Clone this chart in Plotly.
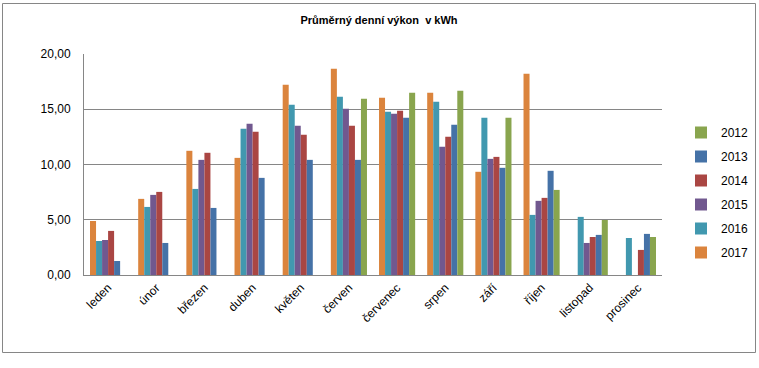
import plotly.graph_objects as go

months = ["leden", "únor", "březen", "duben", "květen", "červen",
          "červenec", "srpen", "září", "říjen", "listopad", "prosinec"]

v2017 = [4.89, 6.89, 11.24, 10.60, 17.22, 18.67, 16.04, 16.50, 9.34, 18.22, None, None]
v2016 = [3.08, 6.16, 7.79, 13.23, 15.41, 16.13, 14.77, 15.68, 14.23, 5.44, 5.26, 3.35]
v2015 = [3.17, 7.25, 10.42, 13.69, 13.50, 15.05, 14.59, 11.60, 10.51, 6.71, 2.90, None]
v2014 = [3.99, 7.52, 11.06, 12.96, 12.69, 13.50, 14.86, 12.51, 10.69, 6.98, 3.44, 2.27]
v2013 = [1.27, 2.90, 6.07, 8.79, 10.42, 10.42, 14.23, 13.60, 9.70, 9.43, 3.63, 3.72]
v2012 = [None, None, None, None, None, 15.95, 16.50, 16.68, 14.23, 7.70, 4.98, 3.44]

series_names = ["2017", "2016", "2015", "2014", "2013", "2012"]
series_values = [v2017, v2016, v2015, v2014, v2013, v2012]
series_colors = ["#DB843D", "#4198AF", "#71588F", "#AA4643", "#4572A7", "#89A54E"]
legend_ranks = [6, 5, 4, 3, 2, 1]

y_tickvals = [0, 5, 10, 15, 20]
y_ticktext = ["0,00", "5,00", "10,00", "15,00", "20,00"]

title_text = "Průměrný denní výkon  v kWh"

FONT = "Liberation Sans"

fig = go.Figure()
for name, vals, col, rk in zip(series_names, series_values, series_colors, legend_ranks):
    fig.add_trace(go.Bar(
        x=months, y=vals, name=name, marker_color=col,
        marker_line_width=0, legendgroup=name, legendrank=rk,
    ))

W, H = 759, 368
L, R, T, B = 84, 662, 54, 275

def px_x(p):
    return (p - L) / (R - L)

def px_y(p):
    return (B - p) / (B - T)

fig.update_layout(
    width=W, height=H,
    margin=dict(l=L, r=W - R, t=T, b=H - B, autoexpand=False),
    barmode="group", bargap=0.25, bargroupgap=0,
    plot_bgcolor="white", paper_bgcolor="white",
    font=dict(family=FONT, size=12, color="#000000"),
    title=dict(text="<b>" + title_text + "</b>", x=379 / W, xanchor="center",
               y=1 - 20 / H, yanchor="middle", font=dict(size=11, family=FONT)),
    legend=dict(x=px_x(681), xanchor="left", y=px_y(118), yanchor="top",
                traceorder="grouped", tracegroupgap=5,
                font=dict(size=12, family=FONT), bgcolor="rgba(0,0,0,0)",
                itemclick=False),
    xaxis=dict(showgrid=False, showline=True, linecolor="#868686", linewidth=1,
               tickangle=-45, ticks="", tickfont=dict(size=12)),
    yaxis=dict(range=[0, 20], tickvals=y_tickvals, ticktext=y_ticktext,
               showgrid=True, gridcolor="#868686", gridwidth=1,
               showline=True, linecolor="#868686", linewidth=1,
               ticks="", ticklabelstandoff=10, zeroline=False,
               tickfont=dict(size=12)),
    shapes=[dict(type="rect", xref="paper", yref="paper",
                 x0=px_x(2.5), x1=px_x(755.5), y0=px_y(352.5), y1=px_y(3.5),
                 line=dict(color="#868686", width=1), fillcolor="rgba(0,0,0,0)",
                 layer="above")],
)

fig.write_html("out.html", config={"displayModeBar": False},
               post_script="document.body.style.margin='0';document.body.style.overflow='hidden';")
